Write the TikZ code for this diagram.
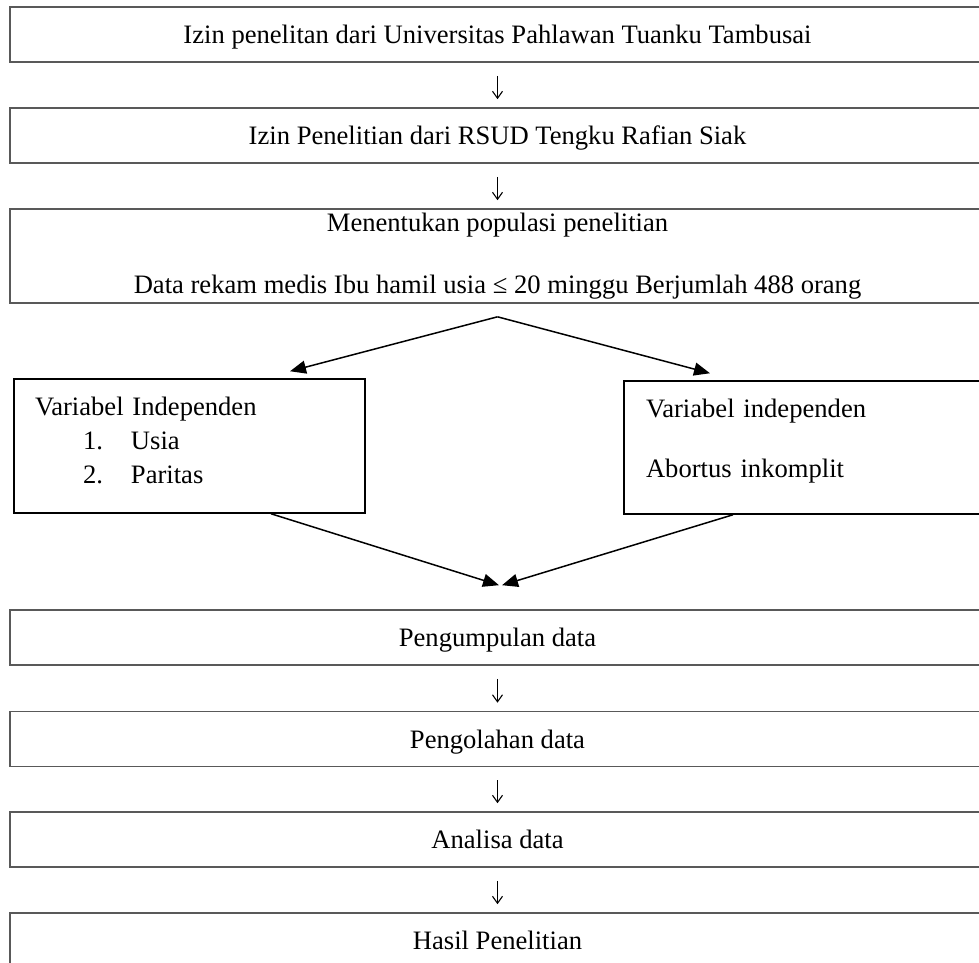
\documentclass[tikz,border=0pt]{standalone}
\usepackage{fontspec}
\setmainfont{Liberation Serif}
\usetikzlibrary{arrows.meta}

\begin{document}
\begin{tikzpicture}[x=1pt,y=1pt,
  font=\fontsize{26.6}{34}\selectfont,
  box/.style={draw=black!65, line width=1.6pt, minimum width=975pt, inner sep=0pt, align=center},
  stage/.style={box, minimum height=55pt, text height=18.5pt, text depth=0pt},
  varbox/.style={draw, line width=1.5pt, inner ysep=0pt, align=left},
  flow/.style={-{Straight Barb[length=7pt,width=10pt]}, line width=1.1pt, shorten <=13pt, shorten >=8pt},
  branch/.style={-{Triangle[length=16pt,width=13pt]}, line width=1.5pt}]
\useasboundingbox (0,0) rectangle (979,-962);
\node[stage] (uni) at (497.5,-34.5) {Izin penelitan dari Universitas Pahlawan Tuanku Tambusai};
\node[stage] (rsud) at (497.5,-135.5) {Izin Penelitian dari RSUD Tengku Rafian Siak};
\node[box, minimum height=94pt] (pop) at (497.5,-256) {Menentukan populasi penelitian\\[28pt] Data rekam medis Ibu hamil usia ≤ 20 minggu Berjumlah 488 orang};
\node[varbox, minimum width=351pt, minimum height=134pt, text width=309pt, inner xsep=21pt] (indep) at (189.5,-446)
  {Variabel Independen\\ \hspace*{48pt}\makebox[48pt][l]{1.}Usia\\ \hspace*{48pt}\makebox[48pt][l]{2.}Paritas\rule[-12pt]{0pt}{1pt}};
\node[varbox, minimum width=361pt, minimum height=133pt, text width=317pt, inner xsep=22pt] (dep) at (804.5,-447.5)
  {Variabel independen\\[26pt] Abortus inkomplit\rule[-18.5pt]{0pt}{1pt}};
\node[stage] (collect) at (497.5,-637.5) {Pengumpulan data};
\node[stage] (process) at (497.5,-739) {Pengolahan data};
\node[stage] (analyse) at (497.5,-839.5) {Analisa data};
\node[stage] (result) at (497.5,-940.5) {Hasil Penelitian};
\coordinate (fork) at ([yshift=-13pt]pop.south);
\coordinate (join) at ([yshift=24pt]collect.north);
\draw[flow] (uni) -- (rsud);
\draw[flow] (rsud) -- (pop);
\draw[branch] (fork) -- ([xshift=100.5pt,yshift=7pt]indep.north);
\draw[branch] (fork) -- ([xshift=-94.5pt,yshift=7pt]dep.north);
\draw[branch] ([xshift=81.5pt]indep.south) -- ([xshift=1.5pt]join);
\draw[branch] ([xshift=-71.5pt]dep.south) -- ([xshift=4.5pt]join);
\draw[flow] (collect) -- (process);
\draw[flow] (process) -- (analyse);
\draw[flow] (analyse) -- (result);
\end{tikzpicture}
\end{document}
